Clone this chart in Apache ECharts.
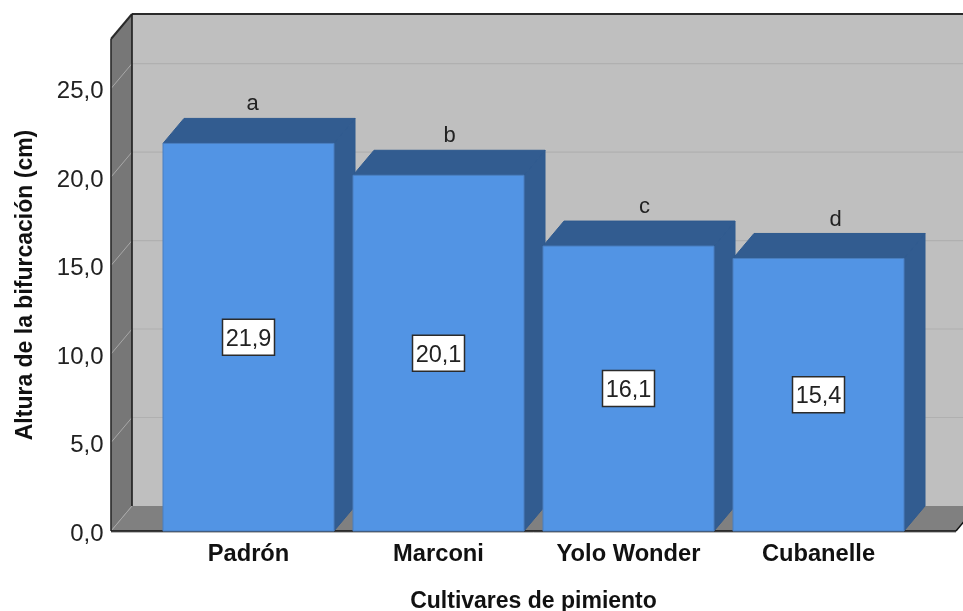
<!DOCTYPE html>
<html>
<head>
<meta charset="utf-8">
<style>html,body{margin:0;padding:0;background:#fff}#chart{width:963px;height:611px}</style>
<script src="https://cdn.jsdelivr.net/npm/echarts@6/dist/echarts.min.js"></script>
</head>
<body>
<div id="chart"></div>
<script>
// Altura de la bifurcación por cultivar, barras con volumen
const categories = ['Padrón', 'Marconi', 'Yolo Wonder', 'Cubanelle'];
const heights = [21.9, 20.1, 16.1, 15.4];
const groupLetters = ['a', 'b', 'c', 'd'];
const yTicks = [0, 5, 10, 15, 20, 25];

const FONT = '"Liberation Sans", Arial, sans-serif';
const DEPTH_X = 21, DEPTH_Y = -25;
const WALL_SIDE_EXTRA = 42.5;
const letterNudge = [4, 11, 16, 17];
const yMax = 27.8;

const comma = v => v.toFixed(1).replace('.', ',');
const poly = (points, fill, stroke, lineWidth) => ({
  type: 'polygon', shape: { points },
  style: { fill, stroke: stroke || null, lineWidth: lineWidth || 0 }, silent: true
});
const seg = (x1, y1, x2, y2, stroke, lineWidth) => ({
  type: 'line', shape: { x1, y1, x2, y2 },
  style: { stroke, lineWidth, fill: null }, silent: true
});

// Paredes, suelo y líneas de cuadrícula de la caja
function renderBox(params, api) {
  const cs = params.coordSys;
  const y0 = api.coord([0, 0])[1];
  const yT = api.coord([0, yMax])[1];
  const xL = cs.x - WALL_SIDE_EXTRA;
  const xR = cs.x + cs.width + WALL_SIDE_EXTRA;
  const bL = xL + DEPTH_X;
  const far = xR + DEPTH_X + 20;
  const kids = [
    poly([[bL, yT + DEPTH_Y], [far, yT + DEPTH_Y], [far, y0 + DEPTH_Y], [bL, y0 + DEPTH_Y]], '#bfbfbf'),
    poly([[xL, yT], [bL, yT + DEPTH_Y], [bL, y0 + DEPTH_Y], [xL, y0]], '#777777'),
    poly([[xL, y0], [bL, y0 + DEPTH_Y], [xR + DEPTH_X, y0 + DEPTH_Y], [xR, y0]], '#808080')
  ];
  yTicks.forEach(t => {
    const y = api.coord([0, t])[1];
    if (t > 0) kids.push(seg(bL, y + DEPTH_Y, far, y + DEPTH_Y, '#b0b0b0', 1.2));
    kids.push(seg(xL, y, bL, y + DEPTH_Y, '#a8a8a8', 1));
  });
  kids.push(
    seg(bL, yT + DEPTH_Y, far, yT + DEPTH_Y, '#2a2a2a', 2),
    seg(xL, yT, bL, yT + DEPTH_Y, '#2a2a2a', 2),
    seg(bL, yT + DEPTH_Y, bL, y0 + DEPTH_Y, '#1c1c1c', 1.6),
    seg(xL, yT, xL, y0, '#2a2a2a', 1.6),
    seg(xL, y0 + 1, xR, y0 + 1, '#777777', 1),
    seg(xL, y0, xR, y0, '#111111', 1.5),
    seg(xR, y0, xR + DEPTH_X, y0 + DEPTH_Y, '#111111', 1.5)
  );
  return { type: 'group', children: kids };
}

// Cada barra: cara frontal, superior y lateral, etiqueta de valor y letra
function renderBar(params, api) {
  const i = api.value(0);
  const v = api.value(1);
  const [cx, yTop] = api.coord([i, v]);
  const y0 = api.coord([i, 0])[1];
  const yMid = api.coord([i, v / 2])[1];
  const w = api.size([1, 0])[0] * 0.9;
  const l = cx - w / 2, r = cx + w / 2;
  const edge = '#2f5a8f';
  return {
    type: 'group',
    children: [
      poly([[r, y0], [r + DEPTH_X, y0 + DEPTH_Y], [r + DEPTH_X, yTop + DEPTH_Y], [r, yTop]], '#325c90', edge, 1),
      poly([[l, yTop], [l + DEPTH_X, yTop + DEPTH_Y], [r + DEPTH_X, yTop + DEPTH_Y], [r, yTop]], '#325c90', edge, 1),
      poly([[l, y0], [l, yTop], [r, yTop], [r, y0]], '#5294e4', '#4a7fc0', 1),
      { type: 'rect', shape: { x: cx - 26, y: yMid - 18, width: 52, height: 36 },
        style: { fill: '#ffffff', stroke: '#2b2b2b', lineWidth: 1.5 }, silent: true },
      { type: 'text', x: cx, y: yMid + 2,
        style: { text: comma(v), font: '23.5px ' + FONT, fill: '#222222', align: 'center', verticalAlign: 'middle' }, silent: true },
      { type: 'text', x: cx + letterNudge[i], y: yTop + DEPTH_Y - 14,
        style: { text: groupLetters[i], font: '22px ' + FONT, fill: '#222222', align: 'center', verticalAlign: 'middle' }, silent: true }
    ]
  };
}

const chart = echarts.init(document.getElementById('chart'), null, { renderer: 'canvas' });
chart.setOption({
  animation: false,
  backgroundColor: '#ffffff',
  grid: { left: 153.5, width: 760, top: 39, bottom: 80, outerBoundsMode: 'none' },
  xAxis: {
    type: 'category',
    data: categories,
    axisLine: { show: false },
    axisTick: { show: false },
    splitLine: { show: false },
    axisLabel: { color: '#111111', fontFamily: FONT, fontWeight: 'bold', fontSize: 23.7, margin: 11, interval: 0 },
    name: 'Cultivares de pimiento',
    nameLocation: 'middle',
    nameGap: 59,
    nameTextStyle: { color: '#111111', fontFamily: FONT, fontWeight: 'bold', fontSize: 23 }
  },
  yAxis: {
    type: 'value',
    min: 0,
    max: yMax,
    interval: 5,
    axisLine: { show: false },
    axisTick: { show: false },
    splitLine: { show: false },
    axisLabel: {
      color: '#222222', fontFamily: FONT, fontSize: 24, margin: 50, showMaxLabel: false,
      verticalAlign: 'top', lineHeight: 6,
      formatter: v => comma(v)
    },
    name: 'Altura de la bifurcación (cm)',
    nameLocation: 'middle',
    nameGap: 116,
    nameTextStyle: { color: '#111111', fontFamily: FONT, fontWeight: 'bold', fontSize: 23 }
  },
  series: [
    { type: 'custom', renderItem: renderBox, data: [[0, 0]], clip: false, z: 1, silent: true,
      encode: { x: 0, y: 1 } },
    { type: 'custom', renderItem: renderBar, data: heights.map((v, i) => [i, v]), clip: false, z: 2, silent: true,
      encode: { x: 0, y: 1 } }
  ]
});
</script>
</body>
</html>
